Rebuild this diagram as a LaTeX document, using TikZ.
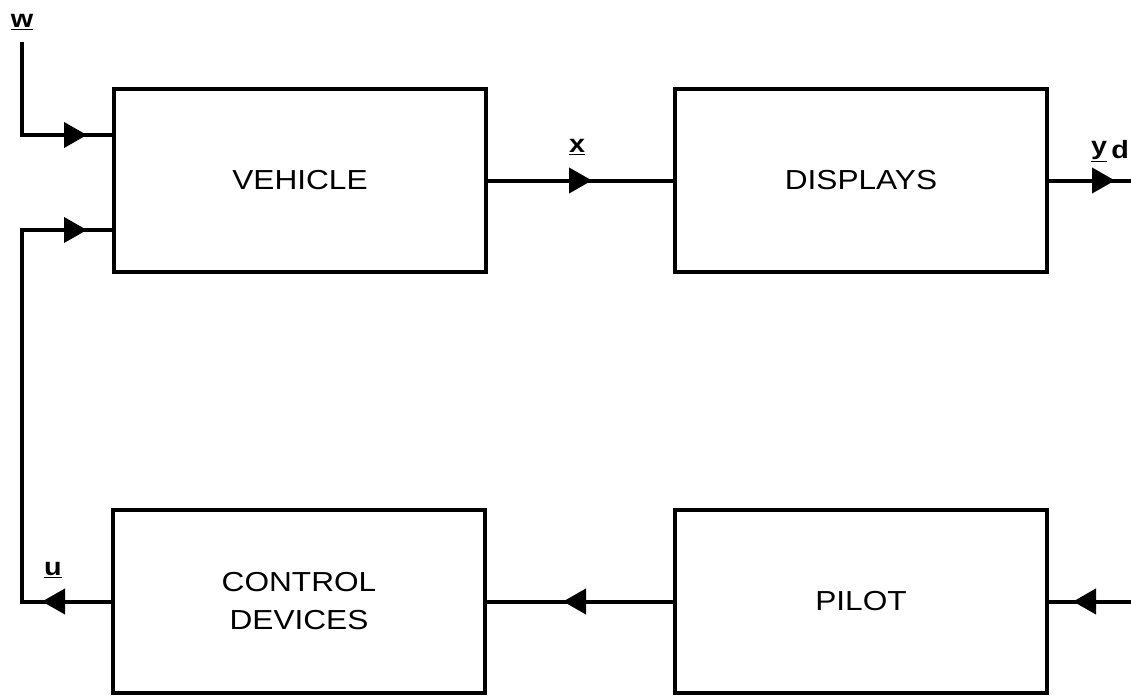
\documentclass[tikz,border=0pt]{standalone}
\usepackage{fontspec}
\setmainfont[FakeStretch=1.15]{Liberation Sans}
\usetikzlibrary{arrows.meta}
\begin{document}
\begin{tikzpicture}[x=1pt,y=-1pt,
  ln/.style={line width=4pt},
  arr/.style={line width=4pt,-{Triangle[length=23pt,width=25pt]}},
  box/.style={draw,line width=4pt,minimum width=372pt,minimum height=183pt,inner sep=0pt,
    font=\fontsize{27.5}{38}\selectfont,align=center},
  lbl/.style={font=\bfseries\fontsize{25}{25}\selectfont,inner sep=0pt}]
\useasboundingbox (0,0) rectangle (1131,698);
\fill[white] (0,0) rectangle (1131,698);
% boxes
\node[box] (veh) at (300,180.5) {VEHICLE};
\node[box] (dis) at (861,180.5) {DISPLAYS};
\node[box] (ctl) at (299,601.5) {CONTROL\\DEVICES};
\node[box] (pil) at (861,601.5) {PILOT};
% coordinates
\coordinate (wt) at (22,42);
\coordinate (w1) at (22,135);
\coordinate (a1) at (87,135);
\coordinate (c1) at (22,230);
\coordinate (c2) at (22,601.5);
\coordinate (a2) at (87,230);
\coordinate (a3) at (42,601.5);
\coordinate (a4) at (592,180.5);
\coordinate (yend) at (1131,180.5);
\coordinate (a5) at (1115,180.5);
\coordinate (a6) at (563,601.5);
\coordinate (pin) at (1131,601.5);
\coordinate (a7) at (1073,601.5);
% labels
\node[lbl] (lw) at (22,22) {\underline{w}};
\node[lbl] (lu) at (53,570) {\underline{u}};
\node[lbl] (lx) at (577,147) {\underline{x}};
\node[lbl,anchor=west] (ly) at (1091,151) {\underline{y}\raisebox{-4pt}{\,d}};
% connectors
\draw[ln] (wt) -- (w1) -- (veh.west |- w1);
\draw[arr] (w1) -- (a1);
\draw[ln] (ctl.west) -- (c2) -- (c1) -- (veh.west |- c1);
\draw[arr] (c1) -- (a2);
\draw[arr] (ctl.west) -- (a3);
\draw[ln] (veh.east) -- (dis.west);
\draw[arr] (veh.east) -- (a4);
\draw[ln] (dis.east) -- (yend);
\draw[arr] (dis.east) -- (a5);
\draw[ln] (pil.west) -- (ctl.east);
\draw[arr] (pil.west) -- (a6);
\draw[ln] (pin) -- (pil.east);
\draw[arr] (pin) -- (a7);
\end{tikzpicture}
\end{document}
